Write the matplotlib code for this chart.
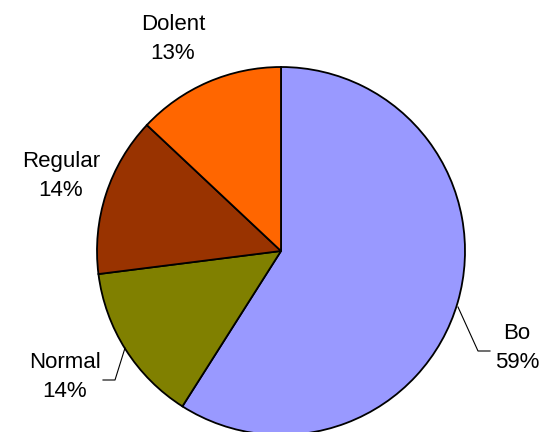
import matplotlib
matplotlib.use("Agg")
import matplotlib.pyplot as plt

plt.rcParams['font.family'] = ['Liberation Sans', 'DejaVu Sans']

categories = ["Bo", "Normal", "Regular", "Dolent"]
values = [59, 14, 14, 13]
colors = ["#9999FF", "#808000", "#993300", "#FF6600"]

W, H = 543, 432
fig = plt.figure(figsize=(W / 100, H / 100), dpi=100)
ax = fig.add_axes([0, 0, 1, 1])
ax.set_xlim(0, W)
ax.set_ylim(H, 0)
ax.set_aspect('equal')
ax.axis('off')

cx, cy, r = 281, 251, 184
# y axis is inverted, so counterclockwise in data space reads clockwise on screen
ax.pie(values, colors=colors, startangle=-90, counterclock=True,
       center=(cx, cy), radius=r,
       wedgeprops=dict(edgecolor='black', linewidth=1.3))
ax.set_xlim(0, W)
ax.set_ylim(H, 0)

label_pos = {
    "Bo": (517, 348),
    "Normal": (65, 377),
    "Regular": (61, 176),
    "Dolent": (173, 39),
}
for name, v in zip(categories, values):
    x, y = label_pos[name]
    ax.text(x, y, f"{name}\n{v}%", ha='center', va='center',
            fontsize=16, linespacing=1.45, color='black')

# leader lines
ax.plot([458, 478, 490], [307, 351, 351], color='black', lw=0.8)
ax.plot([125, 115, 103], [348, 380, 380], color='black', lw=0.8)

fig.savefig("out.png", dpi=100)
